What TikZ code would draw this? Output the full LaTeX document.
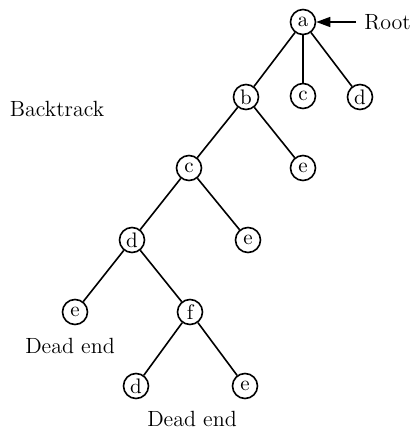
\documentclass[tikz,border=0pt]{standalone}
\usepackage{tikz}
\usetikzlibrary{arrows.meta}

\begin{document}
\begin{tikzpicture}[
  x=0.5pt, y=-0.5pt,
  vtx/.style={circle, draw, thick, minimum size=12.5pt, inner sep=0pt, font=\fontsize{10.5}{12}\selectfont},
  lbl/.style={font=\fontsize{11}{13}\selectfont},
  edge/.style={thick},
  arr/.style={-{Triangle[length=7pt,width=5pt]}, thick}
]
\useasboundingbox (0,0) rectangle (413,429);
% tree
\node[vtx] (a) at (303,22) {a};
\node[vtx] (b) at (246,97) {b};
\node[vtx] (ac) at (303,96) {c};
\node[vtx] (ad) at (360,97) {d};
\node[vtx] (c) at (189,168) {c};
\node[vtx] (be) at (303,168) {e};
\node[vtx] (d) at (132,240) {d};
\node[vtx] (ce) at (248,240) {e};
\node[vtx] (de) at (75,312) {e};
\node[vtx] (f) at (190,312) {f};
\node[vtx] (fd) at (136,386) {d};
\node[vtx] (fe) at (245,386) {e};
% labels
\node[lbl, anchor=west, inner sep=4pt] (root) at (356,22) {Root};
\node[lbl] (back) at (57,109) {Backtrack};
\node[lbl] (dead1) at (70,346) {Dead end};
\node[lbl] (dead2) at (192,419) {Dead end};
% edges
\draw[edge] (a) -- (b);
\draw[edge] (a) -- (ac);
\draw[edge] (a) -- (ad);
\draw[edge] (b) -- (c);
\draw[edge] (b) -- (be);
\draw[edge] (c) -- (d);
\draw[edge] (c) -- (ce);
\draw[edge] (d) -- (de);
\draw[edge] (d) -- (f);
\draw[edge] (f) -- (fd);
\draw[edge] (f) -- (fe);
\draw[arr] (root.west) -- (a.east);
\end{tikzpicture}
\end{document}
